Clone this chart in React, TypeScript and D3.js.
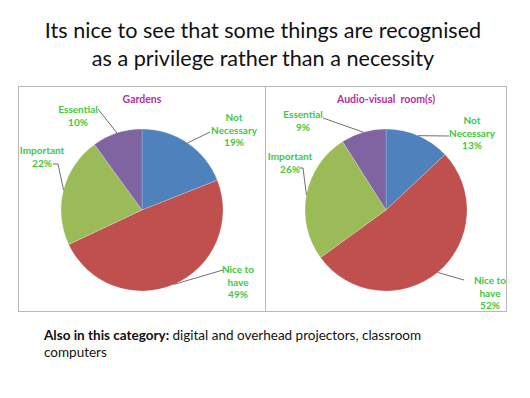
import React, { useEffect, useRef } from 'react';
import * as d3 from 'd3';

// categories, in the order they go round the pie (clockwise from 12 o'clock)
const categories = ['Not Necessary', 'Nice to have', 'Important', 'Essential'];
const labelLines = [['Not', 'Necessary'], ['Nice to', 'have'], ['Important'], ['Essential']];
const colors = ['#4F81BD', '#C0504D', '#9BBB59', '#8064A2'];

const gardenValues = [19, 49, 22, 10];
const avRoomValues = [13, 52, 26, 9];

const chartTitles = ['Gardens', 'Audio-visual  room(s)'];

const titleLines = [
  'Its nice to see that some things are recognised',
  'as a privilege rather than a necessity',
];

// label placement (relative to pie centre): text centre, leader start, elbow
type LabelPos = { cx: number; cy: number; ax: number; ay: number; elbow?: number };

const gardenLabelPos: LabelPos[] = [
  { cx: 92, cy: -80, ax: 68, ay: -78 },
  { cx: 96, cy: 72, ax: 81, ay: 60 },
  { cx: -100, cy: -53, ax: -89, ay: -46, elbow: 5 },
  { cx: -64, cy: -94, ax: -44, ay: -101 },
];

const avLabelPos: LabelPos[] = [
  { cx: 86, cy: -77, ax: 63, ay: -74 },
  { cx: 104, cy: 83, ax: 78, ay: 70 },
  { cx: -96, cy: -47, ax: -87, ay: -42, elbow: 4 },
  { cx: -83, cy: -89, ax: -63, ay: -92 },
];

type Datum = { name: string; value: number; index: number };

const FONT = 'Lato, "Open Sans", sans-serif';

const App: React.FC = () => {
  const svgRef = useRef<SVGSVGElement | null>(null);

  useEffect(() => {
    const svg = d3.select(svgRef.current);
    svg.selectAll('*').remove();

    svg.append('rect').attr('width', 530).attr('height', 398).attr('fill', '#fff');

    // slide title
    svg.append('g')
      .selectAll('text')
      .data(titleLines)
      .join('text')
      .attr('x', 263)
      .attr('y', (d, i) => 38 + i * 28)
      .attr('text-anchor', 'middle')
      .attr('font-family', FONT)
      .attr('font-size', 21.6)
      .attr('fill', '#111')
      .text(d => d);

    // chart frame
    const frame = svg.append('g').attr('fill', 'none').attr('stroke', '#b8b8b8').attr('stroke-width', 1);
    frame.append('rect').attr('x', 18.5).attr('y', 86.5).attr('width', 488).attr('height', 225);
    frame.append('line').attr('x1', 265.5).attr('x2', 265.5).attr('y1', 86.5).attr('y2', 311.5);

    const radius = 81;
    const pie = d3.pie<Datum>().sort(null).value(d => d.value);
    const arc = d3.arc<d3.PieArcDatum<Datum>>().innerRadius(0).outerRadius(radius);

    const drawPie = (values: number[], cx: number, cy: number, title: string, pos: LabelPos[]) => {
      const data: Datum[] = categories.map((name, i) => ({ name, value: values[i], index: i }));
      const arcs = pie(data);
      const g = svg.append('g').attr('transform', `translate(${cx},${cy})`);

      g.append('text')
        .attr('x', 0)
        .attr('y', -radius - 26)
        .attr('text-anchor', 'middle')
        .attr('font-family', FONT)
        .attr('font-weight', 'bold')
        .attr('font-size', 10.5)
        .attr('fill', '#B5309E')
        .attr('xml:space', 'preserve')
        .text(title);

      g.selectAll('path.slice')
        .data(arcs)
        .join('path')
        .classed('slice', true)
        .attr('d', arc)
        .attr('fill', d => colors[d.data.index])
        .attr('stroke', '#ffffff')
        .attr('stroke-opacity', 0.35)
        .attr('stroke-width', 0.6);

      // leader lines
      g.selectAll('polyline.leader')
        .data(arcs)
        .join('polyline')
        .classed('leader', true)
        .attr('fill', 'none')
        .attr('stroke', '#404040')
        .attr('stroke-width', 0.75)
        .attr('points', d => {
          const p = pos[d.data.index];
          const mid = (d.startAngle + d.endAngle) / 2;
          const ex = Math.sin(mid) * radius;
          const ey = -Math.cos(mid) * radius;
          const pts: [number, number][] = [[p.ax, p.ay]];
          if (p.elbow) pts.push([p.ax + p.elbow, p.ay]);
          pts.push([ex, ey]);
          return pts.map(q => q.join(',')).join(' ');
        });

      // data labels
      const labels = g.selectAll('text.lbl')
        .data(arcs)
        .join('text')
        .classed('lbl', true)
        .attr('text-anchor', 'middle')
        .attr('font-family', FONT)
        .attr('font-weight', 'bold')
        .attr('font-size', 10)
        .attr('fill', '#3DC93D');

      labels.each(function (d) {
        const p = pos[d.data.index];
        const lines = [...labelLines[d.data.index], `${d.data.value}%`];
        const lh = 12.5;
        const top = p.cy - ((lines.length - 1) * lh) / 2 + 3.5;
        d3.select(this)
          .selectAll('tspan')
          .data(lines)
          .join('tspan')
          .attr('x', p.cx)
          .attr('y', (_l, i) => top + i * lh)
          .text(l => l);
      });
    };

    drawPie(gardenValues, 142, 210, chartTitles[0], gardenLabelPos);
    drawPie(avRoomValues, 386, 210, chartTitles[1], avLabelPos);

    // footnote
    const note = svg.append('text')
      .attr('font-family', FONT)
      .attr('font-size', 13.5)
      .attr('fill', '#111');
    const l1 = note.append('tspan').attr('x', 44).attr('y', 340);
    l1.append('tspan').attr('font-weight', 'bold').text('Also in this category: ');
    l1.append('tspan').text('digital and overhead projectors, classroom');
    note.append('tspan').attr('x', 44).attr('y', 357).text('computers');

    return () => {
      svg.selectAll('*').remove();
    };
  }, []);

  return (
    <svg ref={svgRef} width={530} height={398} style={{ position: 'absolute', left: 0, top: 0 }} />
  );
};

export default App;
